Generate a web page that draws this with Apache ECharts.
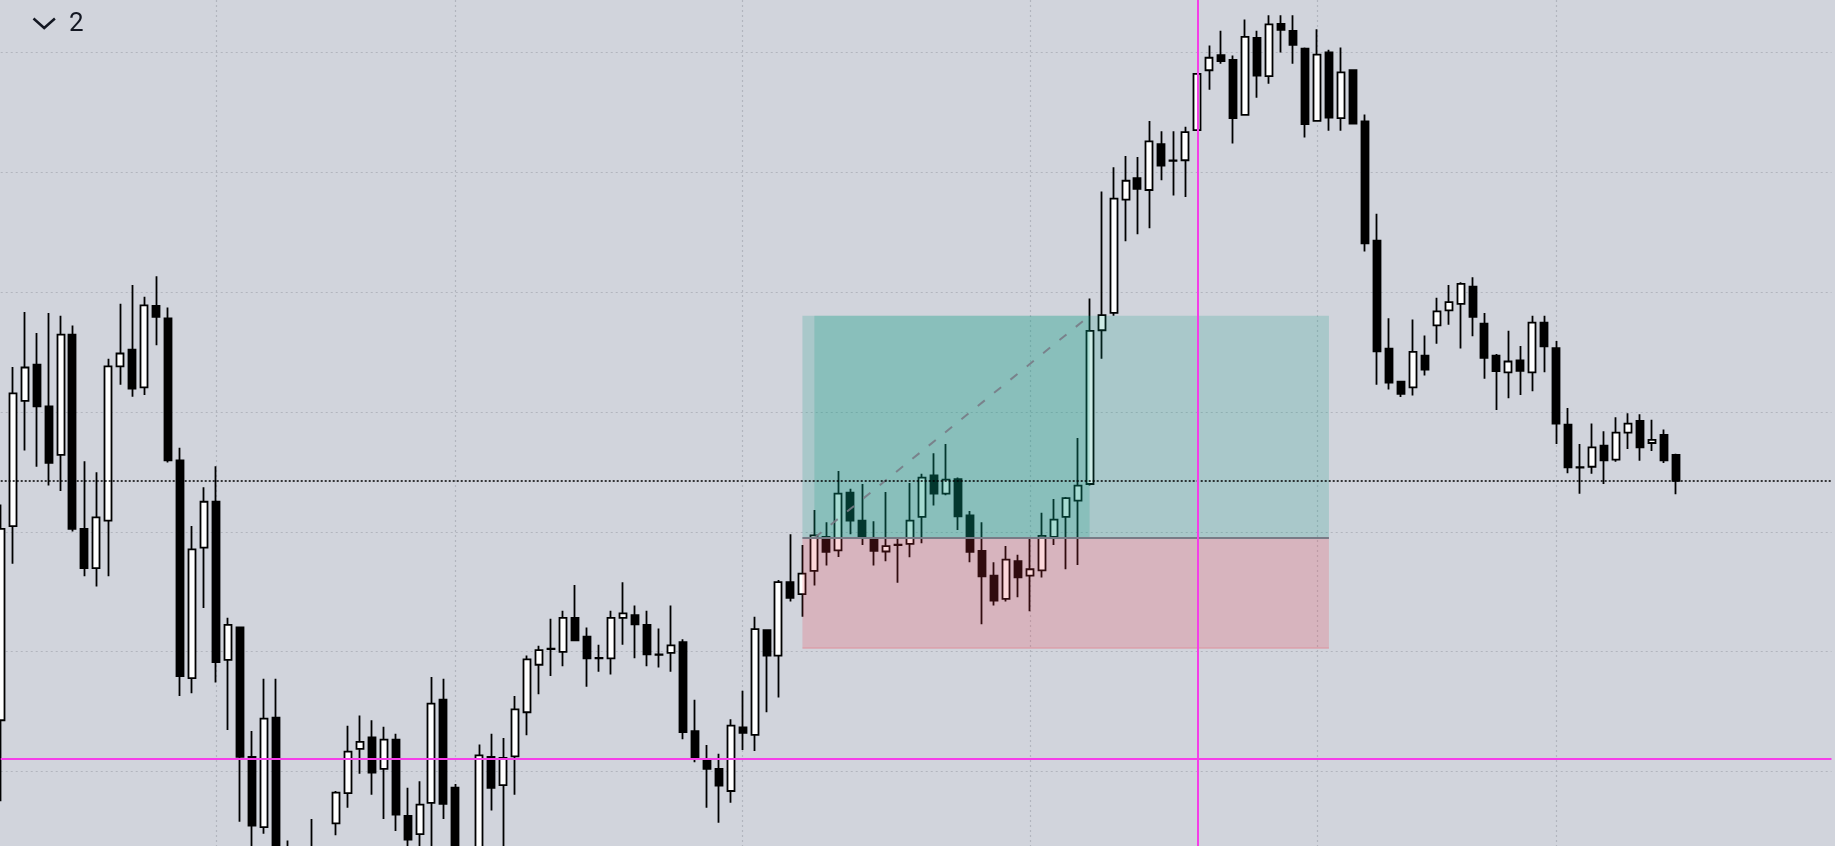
<!DOCTYPE html>
<html><head><meta charset="utf-8">
<script src="https://cdn.jsdelivr.net/npm/echarts@6/dist/echarts.min.js"></script>
<style>html,body{margin:0;padding:0;background:#d1d4dc;overflow:hidden}#c{width:1835px;height:846px}</style>
</head><body><div id="c"></div>
<script>
// OHLC values (index = candle slot)
const open = [104.28,120.48,130.92,133.94,130.47,126.42,136.46,120.25,116.97,120.93,
133.80,135.20,132.05,138.84,137.81,125.97,107.79,118.68,122.51,109.32,
112.02,101.22,95.36,104.50,93.00,92.00,92.50,93.00,95.68,98.20,
101.89,102.84,100.23,102.66,96.31,94.78,97.39,105.99,98.65,92.00,
92.80,101.22,98.87,101.26,104.95,108.91,110.22,109.99,112.83,111.25,
109.45,109.45,112.83,113.05,112.24,109.77,109.90,110.80,103.38,100.99,
100.23,98.38,103.69,103.06,111.79,109.68,115.80,114.81,116.74,119.58,
118.45,123.27,120.93,119.49,118.36,118.90,118.99,121.24,124.71,123.18,
124.40,121.38,118.41,116.34,114.40,117.55,116.34,116.79,119.58,121.24,
122.60,123.99,136.82,138.26,147.71,149.51,148.52,152.35,150.95,151.00,
153.52,158.51,159.77,159.37,154.78,161.21,158.02,162.38,161.80,160.31,
154.28,160.00,154.51,158.51,154.24,144.29,135.29,132.54,132.05,134.70,
137.22,138.48,139.02,140.46,137.36,134.70,133.31,134.30,133.31,137.45,
135.33,128.94,125.39,125.43,127.19,126.02,128.27,129.26,127.41,128.09,
126.42];
const close = [120.25,131.55,133.71,130.47,125.75,136.46,120.25,116.97,121.20,133.80,
134.88,131.96,138.89,137.94,125.97,107.97,118.54,122.51,109.14,112.24,
101.22,95.50,104.41,92.00,91.50,93.00,93.50,92.00,98.24,101.67,
102.48,99.91,102.66,96.40,94.33,97.25,105.67,97.30,92.50,93.00,
101.35,98.65,101.13,105.18,109.36,110.13,110.25,112.83,110.94,109.45,
109.48,112.83,113.19,112.29,109.77,109.74,110.53,103.29,101.13,100.23,
98.83,103.83,103.24,111.88,109.68,115.80,114.49,116.52,119.71,118.32,
123.18,120.93,119.58,118.41,118.81,118.93,120.93,124.53,123.18,124.35,
121.29,118.32,116.29,114.27,117.69,116.20,116.88,119.67,121.02,122.82,
123.86,136.77,138.08,147.80,149.29,148.61,152.57,150.55,150.98,153.34,
158.20,159.55,159.28,154.51,161.30,158.06,162.34,161.89,160.63,154.01,
159.82,154.55,158.33,154.06,144.06,135.06,132.45,131.51,135.02,133.53,
138.39,139.16,140.69,137.94,134.52,133.40,134.21,133.44,137.45,135.47,
129.03,125.39,125.36,127.05,125.97,128.27,129.03,127.05,127.68,125.97,
124.26];
const low = [97.52,117.33,126.78,125.43,123.86,123.41,120.03,116.29,115.44,116.29,
132.27,131.28,131.42,135.56,125.79,106.30,106.53,113.64,107.43,103.47,
95.81,92.80,94.82,91.00,90.50,91.00,91.50,91.00,94.69,96.98,
99.82,98.06,96.04,95.05,93.20,93.20,93.00,96.04,91.50,91.00,
92.00,96.76,93.30,98.06,103.02,106.44,107.97,108.78,110.94,107.07,
108.33,108.10,110.58,109.45,108.78,108.69,108.33,102.70,100.77,96.98,
95.72,97.39,101.80,101.71,104.95,106.17,114.18,112.92,115.53,117.19,
117.91,119.80,118.90,117.19,117.55,115.75,117.87,119.04,122.19,123.05,
120.16,117.46,112.29,113.86,114.18,114.54,113.37,116.20,118.90,116.88,
117.24,123.86,134.43,138.03,144.24,144.83,145.32,149.33,148.07,147.94,
153.52,156.89,159.05,152.39,154.78,156.22,157.39,160.00,159.05,152.89,
154.28,153.47,153.47,154.06,143.39,132.27,131.87,131.24,131.37,133.04,
135.69,137.27,135.29,136.32,132.77,130.16,131.15,131.42,131.73,133.31,
127.32,124.89,123.18,124.85,123.99,125.84,126.92,125.93,126.74,125.75,
123.14];
const high = [122.28,133.76,138.35,136.59,138.26,138.03,137.22,125.88,124.98,134.43,
139.02,140.60,139.61,141.32,138.71,127.01,120.48,123.72,125.48,112.83,
112.02,103.38,107.74,107.74,94.24,93.50,96.04,93.60,98.38,103.83,
104.68,104.28,103.74,103.15,98.65,99.19,107.88,107.74,98.96,93.50,
102.25,103.15,102.79,106.30,109.68,110.49,112.74,113.41,115.57,112.02,
110.58,113.41,115.80,113.86,113.41,111.93,113.86,111.03,105.99,102.21,
101.49,104.37,106.75,112.92,111.79,115.98,119.80,118.90,121.83,120.79,
125.07,123.59,123.99,120.88,123.32,119.49,124.08,124.85,126.56,127.32,
124.53,121.74,120.79,117.46,118.81,118.09,119.49,121.60,122.73,122.91,
127.82,139.47,148.39,150.41,151.36,151.27,154.28,153.43,153.43,153.79,
158.20,160.58,161.80,159.73,162.74,161.80,163.10,163.10,163.10,160.40,
161.93,160.22,160.40,158.60,154.82,146.54,137.81,132.54,137.72,136.37,
139.52,140.60,140.82,141.23,138.26,134.84,136.77,135.51,138.03,138.03,
135.92,130.34,127.32,129.03,128.40,129.57,129.89,129.80,129.35,128.54,
126.51];

// candle slots where a new session starts (vertical grid lines)
const sessionStarts = [18, 38, 62, 86, 110, 130];
const totalSlots = 154;

// long position tool
const posStart = 67, posEnd = 111, progressStart = 68, progressEnd = 91;
const entryPrice = 119.49, targetPrice = 138.03, stopPrice = 110.35;

const lastPrice = 124.26;
const crossIndex = 100, crossPrice = 101.04;

const slots = Array.from({length: totalSlots}, (_, i) => String(i));
const candles = open.map((o, i) => [o, close[i], low[i], high[i]]);

const chart = echarts.init(document.getElementById('c'));
const gridStyle = {color: '#b2b5be', width: 1.2, type: [2, 3]};
chart.setOption({
  backgroundColor: '#d1d4dc',
  animation: false,
  grid: {left: 0.7, right: 3.5, top: 0, bottom: 0},
  xAxis: {
    type: 'category', data: slots, boundaryGap: false,
    axisLine: {show: false}, axisTick: {show: false}, axisLabel: {show: false},
    splitLine: {show: true, interval: (i) => sessionStarts.includes(i), lineStyle: gridStyle}
  },
  yAxis: {
    type: 'value', min: 93.79, max: 164.37, splitNumber: 7,
    axisLine: {show: false}, axisTick: {show: false}, axisLabel: {show: false},
    splitLine: {show: true, showMinLine: false, showMaxLine: false, lineStyle: gridStyle}
  },
  series: [
    {
      type: 'candlestick', data: candles, barWidth: 7.5, z: 2,
      itemStyle: {color: '#ffffff', color0: '#000000', borderColor: '#000000', borderColor0: '#000000', borderColorDoji: '#000000', borderWidth: 1.8}
    },
    {
      type: 'line', data: [], z: 4, silent: true,
      markArea: {
        silent: true, z: 4,
        data: [
          [{xAxis: slots[posStart], yAxis: entryPrice, itemStyle: {color: 'rgba(8,153,129,0.2)'}}, {xAxis: slots[posEnd], yAxis: targetPrice}],
          [{xAxis: slots[progressStart], yAxis: entryPrice, itemStyle: {color: 'rgba(8,153,129,0.2)'}}, {xAxis: slots[progressEnd], yAxis: targetPrice}],
          [{xAxis: slots[posStart], yAxis: stopPrice, itemStyle: {color: 'rgba(242,54,69,0.2)'}}, {xAxis: slots[posEnd], yAxis: entryPrice}]
        ]
      },
      markLine: {
        silent: true, z: 6, symbol: ['none', 'none'], label: {show: false},
        data: [
          [{coord: [slots[posStart], stopPrice], lineStyle: {color: 'rgba(242,54,69,0.3)', width: 1.5, type: 'solid'}}, {coord: [slots[posEnd], stopPrice]}],
          [{coord: [slots[posStart], entryPrice], lineStyle: {color: '#787b86', width: 2, type: 'solid'}}, {coord: [slots[posEnd], entryPrice]}],
          [{coord: [slots[progressStart], entryPrice], lineStyle: {color: 'rgba(120,123,134,0.9)', width: 2, type: [9, 12]}}, {coord: [slots[progressEnd], targetPrice]}],
          {yAxis: lastPrice, lineStyle: {color: '#000000', width: 1.5, type: [2, 2]}},
          {xAxis: slots[crossIndex], lineStyle: {color: '#f53ee8', width: 2, type: 'solid'}},
          {yAxis: crossPrice, lineStyle: {color: '#f53ee8', width: 2, type: 'solid'}}
        ]
      }
    }
  ],
  graphic: [
    {type: 'polyline', shape: {points: [[33.5, 18.5], [44.2, 28], [54.9, 18.5]]}, style: {stroke: '#131722', lineWidth: 2.5, fill: 'none'}},
    {type: 'text', x: 69, y: 24, style: {text: '2', font: '26px Roboto', fill: '#131722', verticalAlign: 'middle'}}
  ]
});
</script>
</body></html>
